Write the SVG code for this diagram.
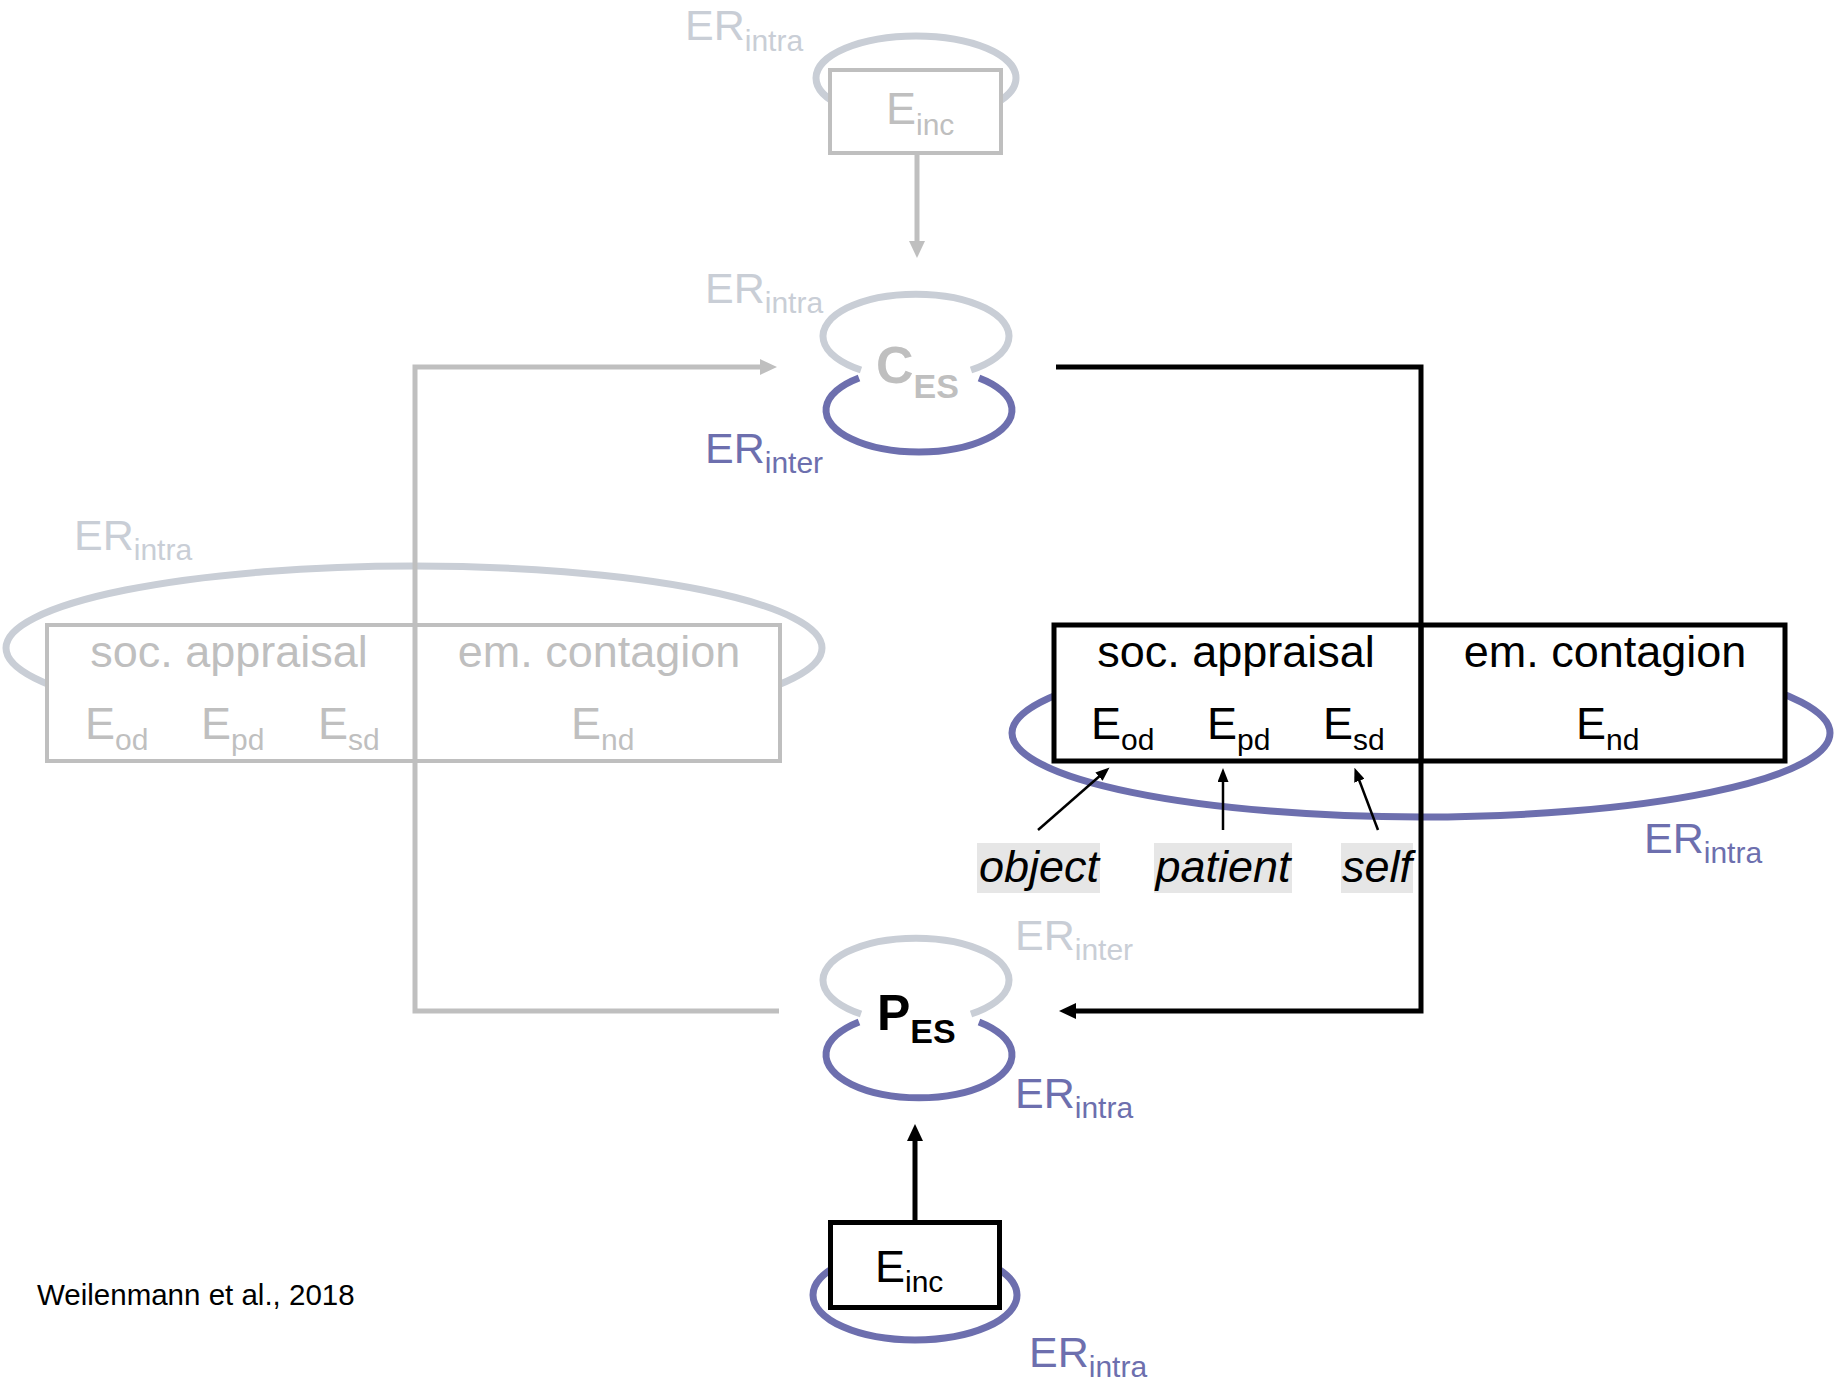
<svg xmlns="http://www.w3.org/2000/svg" width="1845" height="1383" viewBox="0 0 1845 1383">
<style>
text{font-family:"Liberation Sans",Arial,sans-serif}
.loopg{fill:none;stroke:#c9ced6;stroke-width:7}
.loopp{fill:none;stroke:#6d6fae;stroke-width:7}
.boxg{fill:#fff;stroke:#bfbfbf;stroke-width:4}
.boxb{fill:#fff;stroke:#000;stroke-width:5}
.er{font-size:43px}
.sub{font-size:30px}
.erg{fill:#c9ced6}
.erp{fill:#6d6fae}
.lbl{font-size:45px;text-anchor:middle}
.ee{font-size:45px}
.tg{fill:#bfbfbf}
.tb{fill:#000}
.conng{fill:none;stroke:#bfbfbf;stroke-width:5}
.connb{fill:none;stroke:#000;stroke-width:5}
.thin{fill:none;stroke:#000;stroke-width:2.5}
.role{font-size:45px;font-style:italic;text-anchor:middle;fill:#000}
.rolebg{fill:#e6e6e6}
</style>
<defs>
<marker id="ag" markerUnits="userSpaceOnUse" markerWidth="17" markerHeight="16" refX="5" refY="8" orient="auto"><path d="M0,0 L17,8 L0,16 z" fill="#bfbfbf"/></marker>
<marker id="ab" markerUnits="userSpaceOnUse" markerWidth="17" markerHeight="16" refX="5" refY="8" orient="auto"><path d="M0,0 L17,8 L0,16 z" fill="#000"/></marker>
<marker id="as" markerUnits="userSpaceOnUse" markerWidth="14" markerHeight="11" refX="4" refY="5.5" orient="auto"><path d="M0,0 L14,5.5 L0,11 z" fill="#000"/></marker>
</defs>
<rect width="1845" height="1383" fill="#fff"/>

<g id="einc-top">
<ellipse class="loopg" cx="916" cy="78" rx="100" ry="42"/>
<rect class="boxg" x="830" y="70" width="171" height="83"/>
<text class="ee tg" x="886" y="124">E<tspan class="sub" dy="11">inc</tspan></text>
<text class="er erg" x="685" y="40">ER<tspan class="sub" dy="11">intra</tspan></text>
</g>

<g id="ces">
<path class="loopg" d="M861,370 A93,42 0 1 1 971,370"/>
<path class="loopp" d="M859,378 A93,42 0 1 0 979,378"/>
<text x="876" y="383" font-size="52" font-weight="bold" fill="#bfbfbf">C<tspan font-size="34" dy="15">ES</tspan></text>
<text class="er erg" x="705" y="303">ER<tspan class="sub" dy="10">intra</tspan></text>
<text class="er erp" x="705" y="463">ER<tspan class="sub" dy="10">inter</tspan></text>
</g>

<g id="left-box">
<ellipse class="loopg" cx="414" cy="648" rx="408" ry="82"/>
<rect class="boxg" x="47" y="625" width="733" height="136"/>
<line x1="415" y1="625" x2="415" y2="761" stroke="#bfbfbf" stroke-width="4"/>
<text class="lbl tg" x="229" y="667">soc. appraisal</text>
<text class="lbl tg" x="599" y="667">em. contagion</text>
<text class="ee tg" x="85" y="739">E<tspan class="sub" dy="11">od</tspan></text>
<text class="ee tg" x="201" y="739">E<tspan class="sub" dy="11">pd</tspan></text>
<text class="ee tg" x="318" y="739">E<tspan class="sub" dy="11">sd</tspan></text>
<text class="ee tg" x="571" y="739">E<tspan class="sub" dy="11">nd</tspan></text>
<text class="er erg" x="74" y="550">ER<tspan class="sub" dy="10">intra</tspan></text>
</g>

<g id="right-box">
<ellipse class="loopp" cx="1421" cy="733" rx="409" ry="84"/>
<rect class="boxb" x="1054" y="625" width="731" height="136"/>
<line x1="1421" y1="625" x2="1421" y2="761" stroke="#000" stroke-width="5"/>
<text class="lbl tb" x="1236" y="667">soc. appraisal</text>
<text class="lbl tb" x="1605" y="667">em. contagion</text>
<text class="ee tb" x="1091" y="739">E<tspan class="sub" dy="11">od</tspan></text>
<text class="ee tb" x="1207" y="739">E<tspan class="sub" dy="11">pd</tspan></text>
<text class="ee tb" x="1323" y="739">E<tspan class="sub" dy="11">sd</tspan></text>
<text class="ee tb" x="1576" y="739">E<tspan class="sub" dy="11">nd</tspan></text>
<text class="er erp" x="1644" y="853">ER<tspan class="sub" dy="10">intra</tspan></text>
</g>

<g id="role-object">
<rect class="rolebg" x="977" y="843" width="123" height="50"/>
<text class="role" x="1039" y="882">object</text>
</g>
<g id="role-patient">
<rect class="rolebg" x="1154" y="843" width="138" height="50"/>
<text class="role" x="1223" y="882">patient</text>
</g>
<g id="role-self">
<rect class="rolebg" x="1341" y="843" width="72" height="50"/>
<text class="role" x="1377" y="882">self</text>
</g>

<g id="pes">
<path class="loopg" d="M861,1014 A93,42 0 1 1 971,1014"/>
<path class="loopp" d="M859,1022 A93,43 0 1 0 979,1022"/>
<text x="877" y="1030" font-size="50" font-weight="bold" fill="#000">P<tspan font-size="34" dy="13">ES</tspan></text>
<text class="er erg" x="1015" y="950">ER<tspan class="sub" dy="10">inter</tspan></text>
<text class="er erp" x="1015" y="1108">ER<tspan class="sub" dy="10">intra</tspan></text>
</g>

<g id="einc-bottom">
<ellipse class="loopp" cx="915" cy="1295" rx="102" ry="45"/>
<rect class="boxb" x="830.5" y="1222.5" width="169" height="85"/>
<text class="ee tb" x="875" y="1282">E<tspan class="sub" dy="10">inc</tspan></text>
<text class="er erp" x="1029" y="1367">ER<tspan class="sub" dy="10">intra</tspan></text>
</g>

<g id="credit">
<text x="37" y="1305" font-size="29.5" fill="#000">Weilenmann et al., 2018</text>
</g>

<g id="connectors">
<line class="conng" x1="917" y1="155" x2="917" y2="246" marker-end="url(#ag)"/>
<polyline class="conng" points="779,1011 415,1011 415,367 765,367" marker-end="url(#ag)"/>
<polyline class="connb" points="1056,367 1421,367 1421,1011 1071,1011" marker-end="url(#ab)"/>
<line class="connb" x1="915" y1="1220" x2="915" y2="1136" marker-end="url(#ab)"/>
<line class="thin" x1="1038" y1="830" x2="1102" y2="774" marker-end="url(#as)"/>
<line class="thin" x1="1223" y1="830" x2="1223" y2="778" marker-end="url(#as)"/>
<line class="thin" x1="1378" y1="830" x2="1358" y2="777" marker-end="url(#as)"/>
</g>
</svg>
